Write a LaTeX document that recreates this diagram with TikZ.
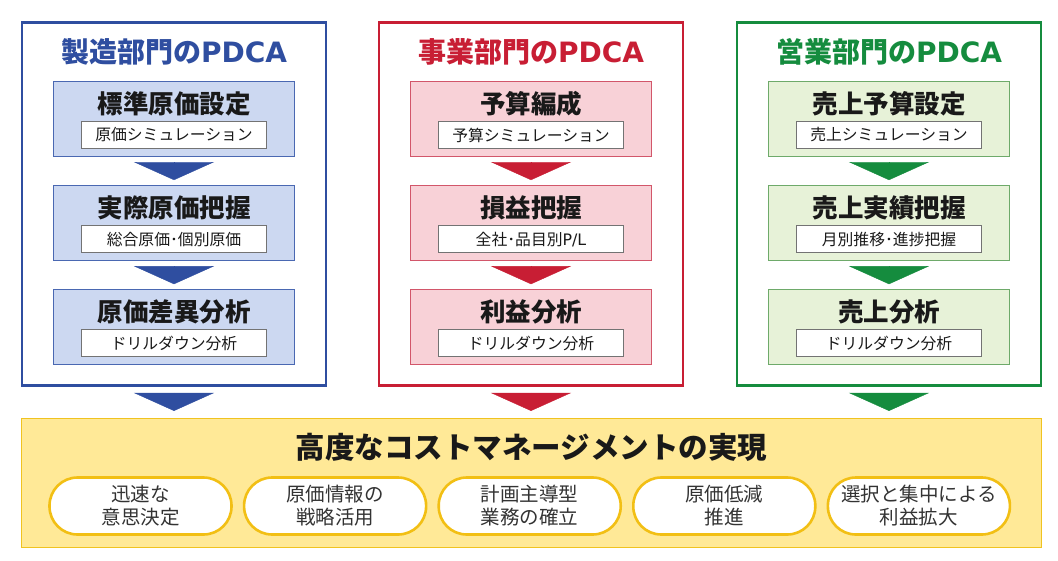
\documentclass[tikz,border=0pt]{standalone}
\usepackage{fontspec}
\setmainfont{Noto Sans CJK JP}
\newfontfamily\latinwide{DejaVu Sans}
\usetikzlibrary{arrows.meta, positioning, calc}
\definecolor{mfgblue}{HTML}{2F4EA0}
\definecolor{mfgedge}{HTML}{4A68B2}
\definecolor{mfgfill}{HTML}{CCD8F1}
\definecolor{bizred}{HTML}{C81E34}
\definecolor{bizedge}{HTML}{D2566A}
\definecolor{bizfill}{HTML}{F8D1D7}
\definecolor{salgreen}{HTML}{158C3E}
\definecolor{saledge}{HTML}{6EAA6A}
\definecolor{salfill}{HTML}{E7F2D8}
\definecolor{goalline}{HTML}{F0C320}
\definecolor{goalfill}{HTML}{FFE997}
\definecolor{pillline}{HTML}{F2BF14}
\tikzset{
  deptframe/.style={draw, line width=2.6pt, fill=white, minimum width=304pt, minimum height=363pt},
  frametitle/.style={font=\fontsize{28}{32}\selectfont\bfseries, inner sep=0pt},
  stepbox/.style={draw, line width=1.1pt, minimum width=241pt, minimum height=75pt},
  mfgstep/.style={stepbox, draw=mfgedge, fill=mfgfill},
  bizstep/.style={stepbox, draw=bizedge, fill=bizfill},
  salstep/.style={stepbox, draw=saledge, fill=salfill},
  steptitle/.style={font=\fontsize{25.5}{30}\selectfont\bfseries, text=black!90, inner sep=0pt},
  subbox/.style={draw=black!55, line width=0.8pt, fill=white, minimum width=185pt, minimum height=27pt, font=\fontsize{15.8}{19}\selectfont, text=black!90, inner sep=0pt},
  flow/.style={-{Triangle[length=18pt, width=80pt]}, line width=0.4pt, shorten <=5pt, shorten >=5pt},
  outflow/.style={flow, shorten <=6pt, shorten >=7pt},
  goalbox/.style={draw=goalline, fill=goalfill, line width=1.2pt, minimum width=1020pt, minimum height=129pt},
  goaltitle/.style={font=\fontsize{29.5}{34}\selectfont\bfseries, text=black!90, inner sep=0pt},
  effectpill/.style={draw=pillline, fill=white, line width=2.6pt, rounded corners=28pt, minimum width=182pt, minimum height=57pt, align=center, font=\fontsize{19.5}{23}\selectfont, text=black!80, inner sep=0pt},
}
\begin{document}
\begin{tikzpicture}[x=1pt, y=-1pt]
  \useasboundingbox (0,0) rectangle (1058,560);

  % Manufacturing column
  \node[deptframe, draw=mfgblue] (mfg) at (174,204) {};
  \node[frametitle, text=mfgblue] (mfgtitle) at (174,52) {製造部門の{\latinwide PDCA}};
  \node[mfgstep] (mfgstd) at (174,119) {};
  \node[mfgstep, below=28pt of mfgstd] (mfgact) {};
  \node[mfgstep, below=28pt of mfgact] (mfgvar) {};
  \node[steptitle] (mfgstdt) at ([yshift=15pt]mfgstd.center) {標準原価設定};
  \node[subbox] (mfgstds) at ([yshift=-16pt]mfgstd.center) {原価シミュレーション};
  \node[steptitle] (mfgactt) at ([yshift=15pt]mfgact.center) {実際原価把握};
  \node[subbox] (mfgacts) at ([yshift=-16pt]mfgact.center) {総合原価･個別原価};
  \node[steptitle] (mfgvart) at ([yshift=15pt]mfgvar.center) {原価差異分析};
  \node[subbox] (mfgvars) at ([yshift=-16pt]mfgvar.center) {ドリルダウン分析};

  % Business column
  \node[deptframe, draw=bizred] (biz) at (531,204) {};
  \node[frametitle, text=bizred] (biztitle) at (531,52) {事業部門の{\latinwide PDCA}};
  \node[bizstep] (bizbud) at (531,119) {};
  \node[bizstep, below=28pt of bizbud] (bizpl) {};
  \node[bizstep, below=28pt of bizpl] (bizpro) {};
  \node[steptitle] (bizbudt) at ([yshift=15pt]bizbud.center) {予算編成};
  \node[subbox] (bizbuds) at ([yshift=-16pt]bizbud.center) {予算シミュレーション};
  \node[steptitle] (bizplt) at ([yshift=15pt]bizpl.center) {損益把握};
  \node[subbox] (bizpls) at ([yshift=-16pt]bizpl.center) {全社･品目別{\latinwide P/L}};
  \node[steptitle] (bizprot) at ([yshift=15pt]bizpro.center) {利益分析};
  \node[subbox] (bizpros) at ([yshift=-16pt]bizpro.center) {ドリルダウン分析};

  % Sales column
  \node[deptframe, draw=salgreen] (sal) at (889,204) {};
  \node[frametitle, text=salgreen] (saltitle) at (889,52) {営業部門の{\latinwide PDCA}};
  \node[salstep] (salbud) at (889,119) {};
  \node[salstep, below=28pt of salbud] (salact) {};
  \node[salstep, below=28pt of salact] (salana) {};
  \node[steptitle] (salbudt) at ([yshift=15pt]salbud.center) {売上予算設定};
  \node[subbox] (salbuds) at ([yshift=-16pt]salbud.center) {売上シミュレーション};
  \node[steptitle] (salactt) at ([yshift=15pt]salact.center) {売上実績把握};
  \node[subbox] (salacts) at ([yshift=-16pt]salact.center) {月別推移･進捗把握};
  \node[steptitle] (salanat) at ([yshift=15pt]salana.center) {売上分析};
  \node[subbox] (salanas) at ([yshift=-16pt]salana.center) {ドリルダウン分析};

  % Step arrows inside the frames
  \draw[flow, mfgblue] (mfgstd) -- (mfgact);
  \draw[flow, mfgblue] (mfgact) -- (mfgvar);
  \draw[flow, bizred] (bizbud) -- (bizpl);
  \draw[flow, bizred] (bizpl) -- (bizpro);
  \draw[flow, salgreen] (salbud) -- (salact);
  \draw[flow, salgreen] (salact) -- (salana);

  % Goal panel
  \node[goalbox] (goal) at (531.5,483) {};
  \node[goaltitle] (goaltitle) at (531.5,447) {高度なコストマネージメントの実現};
  \node[effectpill] (decide) at (140.5,506) {迅速な\\意思決定};
  \node[effectpill, right=10pt of decide] (strategy) {原価情報の\\戦略活用};
  \node[effectpill, right=10pt of strategy] (planning) {計画主導型\\業務の確立};
  \node[effectpill, right=10pt of planning] (reduce) {原価低減\\推進};
  \node[effectpill, right=10pt of reduce] (focus) {選択と集中による\\利益拡大};

  % Frames feeding the goal
  \draw[outflow, mfgblue] (mfg.south) -- (mfg.south |- goal.north);
  \draw[outflow, bizred] (biz.south) -- (biz.south |- goal.north);
  \draw[outflow, salgreen] (sal.south) -- (sal.south |- goal.north);
\end{tikzpicture}
\end{document}
